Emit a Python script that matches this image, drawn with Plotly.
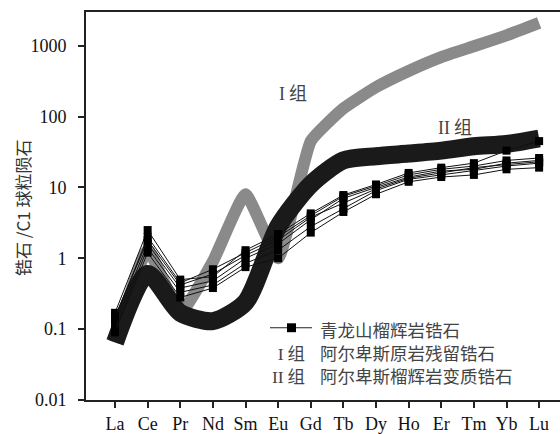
import plotly.graph_objects as go

elements = ["La", "Ce", "Pr", "Nd", "Sm", "Eu", "Gd", "Tb", "Dy", "Ho", "Er", "Tm", "Yb", "Lu"]

# Group I (grey band) – Alpine protolith relict zircon
group1 = [0.065, 1.3, 0.17, 0.9, 8.0, 1.0, 45, 130, 260, 440, 690, 980, 1400, 2100]
# Group II (black band) – Alpine eclogite metamorphic zircon
group2 = [0.065, 0.6, 0.17, 0.13, 0.24, 2.8, 11, 24, 27.5, 30, 33, 38, 41, 49]

# Qinglongshan eclogite zircons
qls_1 = [0.17, 2.5, 0.50, 0.55, 1.30, 2.2, 4.3, 7.8, 11.0, 16.0, 19.0, 22.0, 33.0, 45.0]
qls_2 = [0.14, 2.0, 0.45, 0.70, 1.20, 2.0, 4.0, 7.5, 10.5, 15.0, 18.0, 20.0, 24.0, 26.0]
qls_3 = [0.12, 1.6, 0.38, 0.48, 1.00, 1.6, 3.5, 7.0, 10.0, 14.0, 17.0, 18.0, 22.0, 24.0]
qls_4 = [0.10, 1.4, 0.33, 0.42, 0.85, 1.3, 2.8, 5.0, 9.0, 13.0, 15.0, 17.0, 20.0, 22.0]
qls_5 = [0.09, 1.2, 0.28, 0.38, 0.75, 1.0, 2.3, 4.5, 8.0, 12.0, 14.0, 15.0, 18.0, 19.0]
qls_6 = [0.15, 1.8, 0.42, 0.60, 1.10, 1.8, 3.8, 6.0, 9.5, 13.5, 16.0, 19.0, 21.0, 23.0]
qls_samples = [qls_1, qls_2, qls_3, qls_4, qls_5, qls_6]

y_tickvals = [0.01, 0.1, 1, 10, 100, 1000]
y_ticktext = ["0.01", "0.1", "1", "10", "100", "1000"]

legend_labels = ["青龙山榴辉岩锆石", "阿尔卑斯原岩残留锆石", "阿尔卑斯榴辉岩变质锆石"]
group_tags = ["I 组", "II 组"]

serif = "Liberation Serif, Times New Roman, serif"
cjk = "Noto Sans CJK SC, sans-serif"

W, H = 560, 434
ML, MR, MT, MB = 86, 0, 12, 30
PW, PH = W - ML - MR, H - MT - MB


def px(xp):
    return (xp - ML) / PW


def py(yp):
    return (H - MB - yp) / PH


def tag_html(tag):
    roman, rest = tag.split(" ", 1)
    return ('<span style="font-family:Liberation Serif">' + roman + '</span> ' + rest)


fig = go.Figure()

fig.add_trace(go.Scatter(
    x=elements, y=group1, mode="lines",
    line=dict(color="#8a8a8a", width=12, shape="spline", smoothing=0.4),
    showlegend=False, hoverinfo="skip"))

fig.add_trace(go.Scatter(
    x=elements, y=group2, mode="lines",
    line=dict(color="#1a1a1a", width=18, shape="spline", smoothing=0.7),
    showlegend=False, hoverinfo="skip"))

for s in qls_samples:
    fig.add_trace(go.Scatter(
        x=elements, y=s, mode="lines+markers",
        line=dict(color="#111111", width=1),
        marker=dict(symbol="square", size=8, color="#000000"),
        showlegend=False, hoverinfo="skip"))

fig.update_layout(
    width=W, height=H,
    margin=dict(l=ML, r=MR, t=MT, b=MB),
    paper_bgcolor="white", plot_bgcolor="white",
    showlegend=False,
)

fig.update_xaxes(
    type="category", range=[-0.89, 13.64],
    showgrid=False, zeroline=False,
    showline=True, linecolor="#222", linewidth=2, mirror=True,
    ticks="outside", ticklen=6, tickwidth=2, tickcolor="#222",
    tickfont=dict(family=serif, size=18, color="#111"),
)
fig.update_yaxes(
    type="log", range=[-2, 3.475],
    tickvals=y_tickvals, ticktext=y_ticktext,
    showgrid=False, zeroline=False,
    showline=True, linecolor="#222", linewidth=2, mirror=False,
    ticks="outside", ticklen=6, tickwidth=2, tickcolor="#222",
    ticklabelstandoff=8,
    tickfont=dict(family=serif, size=18, color="#111"),
)

leg_font = dict(family=cjk, size=17.5, color="#444")
tag_font = dict(family=cjk, size=18, color="#444")


def ann(text, x, y, xanchor="center", xref="paper", yref="paper", **kw):
    return dict(text=text, xref=xref, yref=yref, x=x, y=y, xanchor=xanchor,
                yanchor="middle", showarrow=False, **kw)


annotations = [
    ann("锆石 /C1 球粒陨石", px(23), py(210), textangle=-90,
        font=dict(family=cjk, size=17, color="#333")),
    ann(tag_html(group_tags[0]), 5.46, 2.35, xref="x", yref="y", font=tag_font),
    ann(tag_html(group_tags[1]), 10.43, 1.87, xref="x", yref="y", font=tag_font),
    # legend text block
    ann("<br>".join(legend_labels), px(318), py(356), xanchor="left", align="left",
        font=leg_font),
    ann("<br>".join(tag_html(t) for t in group_tags), px(307), py(367.5),
        xanchor="right", align="right", font=leg_font),
]
fig.update_layout(annotations=annotations)

# legend key for the Qinglongshan series: line with a square
fig.add_shape(type="line", xref="paper", yref="paper",
              x0=px(270), x1=px(312), y0=py(331), y1=py(331),
              line=dict(color="#222", width=1.2))
fig.add_shape(type="rect", xref="paper", yref="paper",
              x0=px(287), x1=px(296), y0=py(335.5), y1=py(326.5),
              line=dict(width=0), fillcolor="#000")

fig.write_html("out.html", config={"displayModeBar": False},
               post_script="document.body.style.margin='0';")
